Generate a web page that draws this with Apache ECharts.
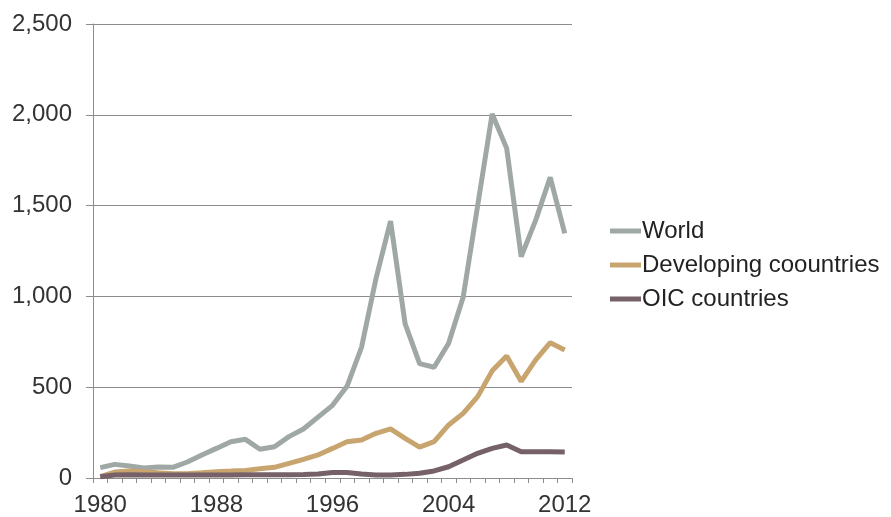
<!DOCTYPE html>
<html>
<head>
<meta charset="utf-8">
<script src="https://cdn.jsdelivr.net/npm/echarts@6/dist/echarts.min.js"></script>
<style>
html,body{margin:0;padding:0;background:#fff;}
#chart{width:891px;height:517px;}
</style>
</head>
<body>
<div id="chart"></div>
<script>
const years = ['1980','1981','1982','1983','1984','1985','1986','1987','1988','1989','1990','1991','1992','1993','1994','1995','1996','1997','1998','1999','2000','2001','2002','2003','2004','2005','2006','2007','2008','2009','2010','2011','2012'];
const worldValues = [57, 75, 66, 55, 60, 59, 88, 127, 163, 200, 213, 158, 172, 228, 270, 335, 400, 505, 720, 1100, 1415, 850, 630, 610, 742, 995, 1500, 2005, 1815, 1219, 1420, 1656, 1347];
const developingValues = [7, 33, 38, 35, 29, 24, 24, 29, 35, 38, 42, 51, 59, 81, 103, 127, 163, 200, 209, 246, 270, 218, 170, 200, 292, 356, 448, 590, 672, 532, 650, 745, 705];
const oicValues = [7, 17, 18, 17, 16, 16, 16, 16, 17, 17, 18, 18, 18, 18, 19, 22, 30, 30, 22, 17, 17, 20, 26, 39, 62, 99, 136, 163, 182, 145, 145, 145, 143];
const seriesNames = ['World', 'Developing coountries', 'OIC countries'];
const yTicks = [0, 500, 1000, 1500, 2000, 2500];

const chart = echarts.init(document.getElementById('chart'));
const font = 'Liberation Sans, Arial, sans-serif';
const colors = ['#9fa8a4', '#c8a56f', '#766168'];
chart.setOption({
  animation: false,
  color: colors,
  grid: {left: 93, right: 319, top: 24, bottom: 39, containLabel: false},
  legend: {
    orient: 'vertical',
    left: 605,
    top: 214,
    itemWidth: 31,
    itemHeight: 5,
    itemGap: 10,
    icon: 'rect',
    data: seriesNames,
    textStyle: {fontFamily: font, fontSize: 24, color: '#222', padding: [0, 0, 0, -4]}
  },
  xAxis: {
    type: 'category',
    data: years,
    boundaryGap: true,
    axisLine: {lineStyle: {color: '#8c8c8c', width: 1}},
    axisTick: {show: true, interval: 0, length: 5, lineStyle: {color: '#8c8c8c'}},
    axisLabel: {interval: 7, fontFamily: font, fontSize: 24, color: '#333', margin: 15}
  },
  yAxis: {
    type: 'value',
    min: yTicks[0],
    max: yTicks[yTicks.length - 1],
    interval: 500,
    axisLine: {show: true, lineStyle: {color: '#8c8c8c', width: 1}},
    axisTick: {show: true, length: 7, lineStyle: {color: '#8c8c8c'}},
    splitLine: {lineStyle: {color: '#8c8c8c', width: 1}},
    axisLabel: {fontFamily: font, fontSize: 24, color: '#333', margin: 21,
      formatter: v => v.toLocaleString('en-US')}
  },
  series: [
    {name: seriesNames[0], type: 'line', data: worldValues, symbol: 'none', lineStyle: {width: 5, color: colors[0]}},
    {name: seriesNames[1], type: 'line', data: developingValues, symbol: 'none', lineStyle: {width: 5, color: colors[1]}},
    {name: seriesNames[2], type: 'line', data: oicValues, symbol: 'none', lineStyle: {width: 5, color: colors[2]}}
  ]
});
</script>
</body>
</html>
